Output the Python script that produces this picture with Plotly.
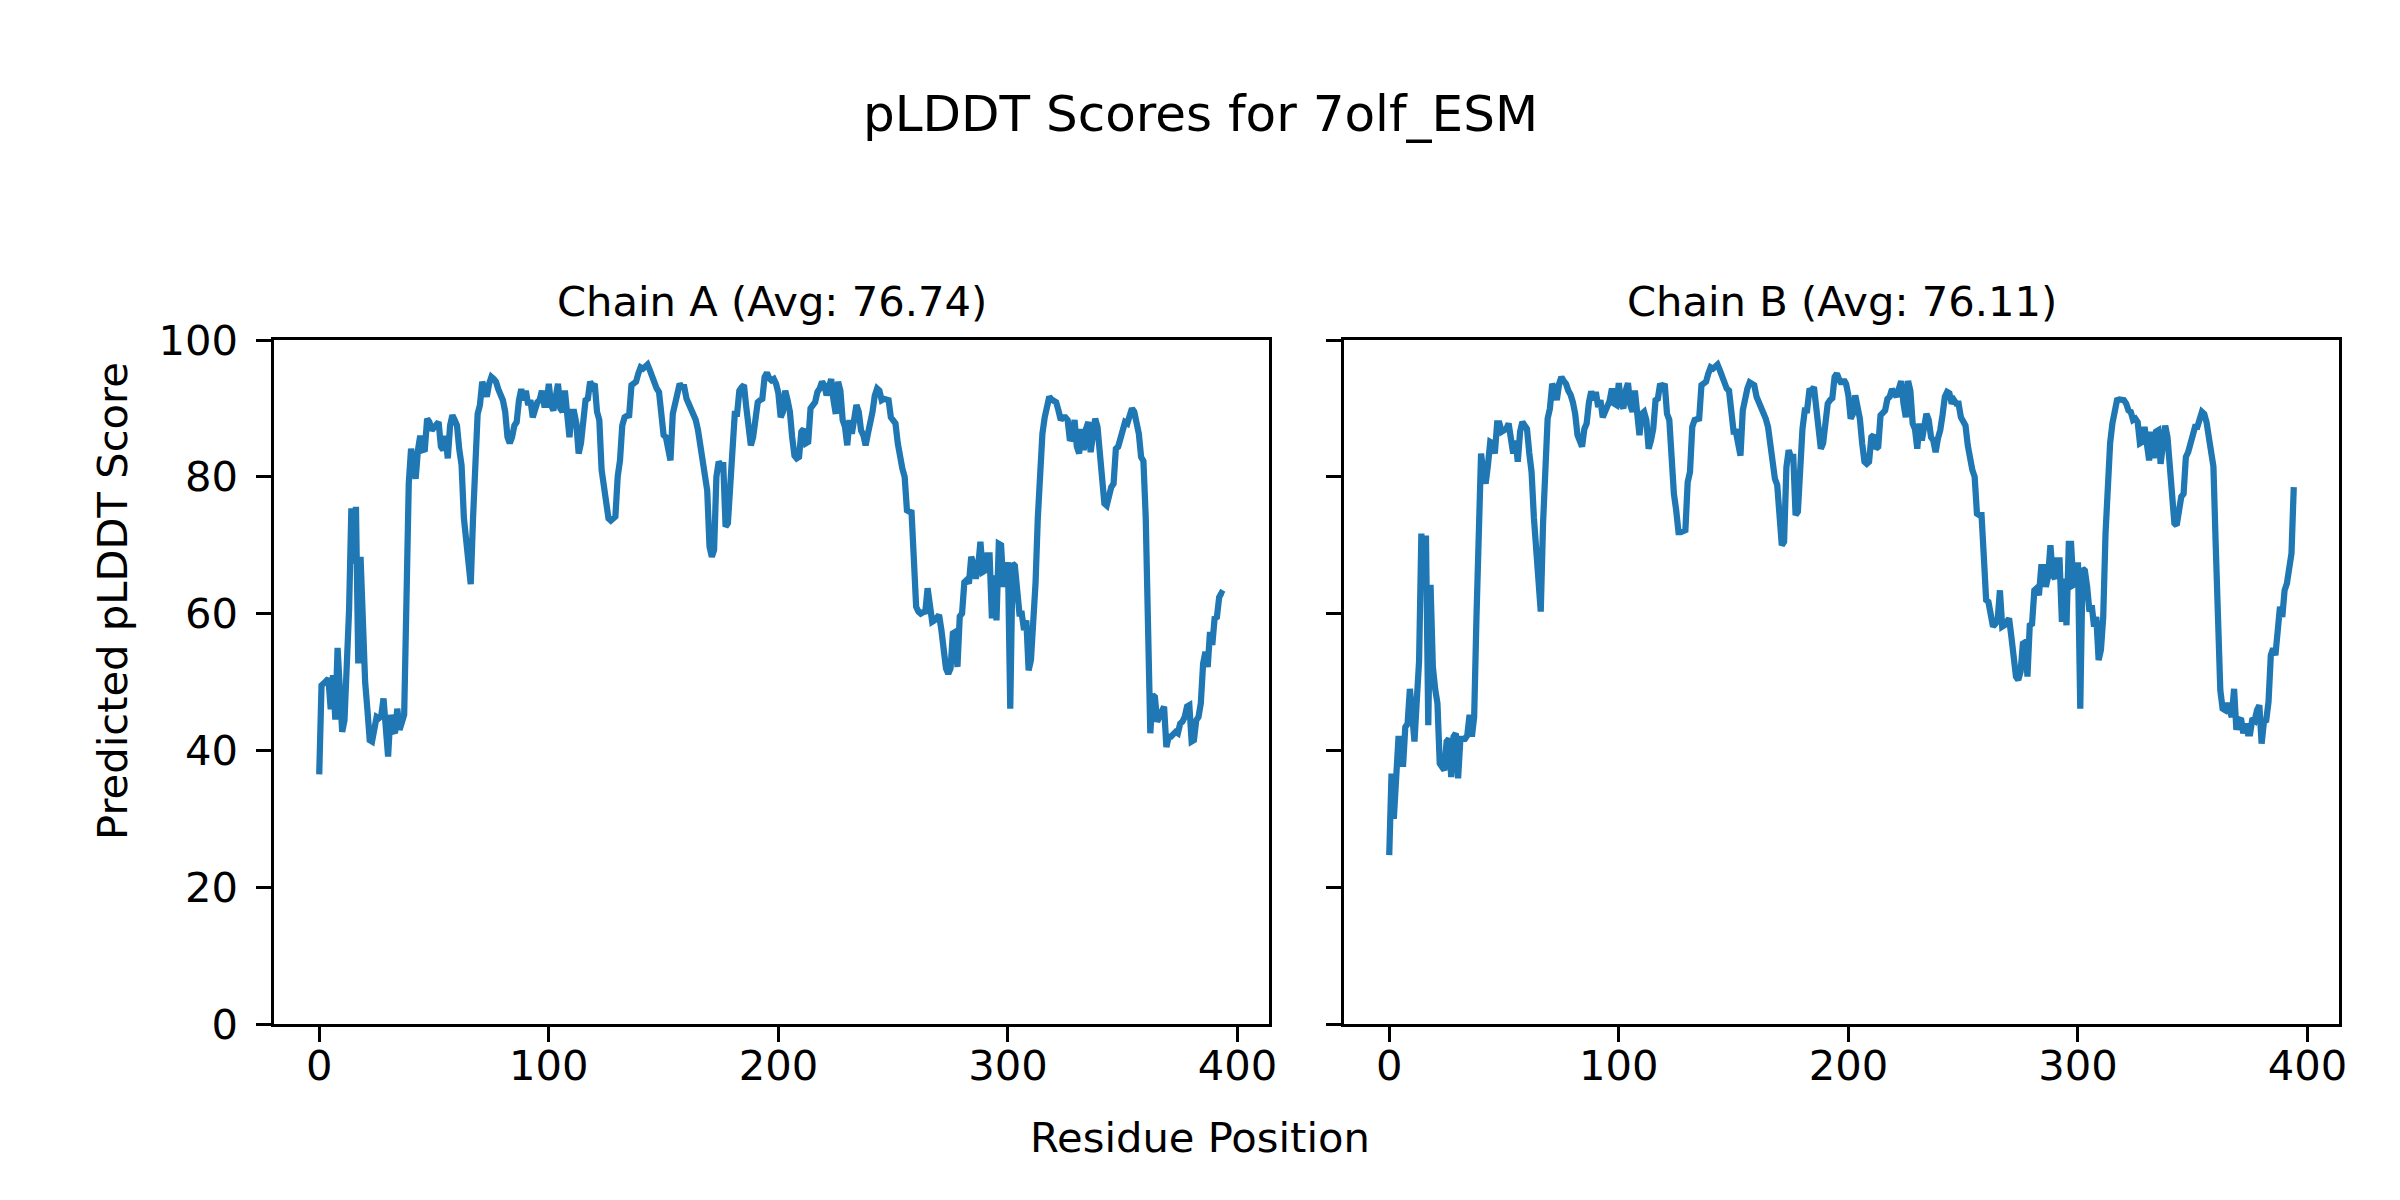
import numpy as np
import plotly.graph_objects as go

title_text = "pLDDT Scores for 7olf_ESM"
chain_titles = ["Chain A (Avg: 76.74)", "Chain B (Avg: 76.11)"]
x_label = "Residue Position"
y_label = "Predicted pLDDT Score"
x_ticks = [0, 100, 200, 300, 400]
y_ticks = [0, 20, 40, 60, 80, 100]

chain_a = [
    36.5, 49.5, 49.8, 50.3, 50.5, 46.0, 51.0, 44.5, 55.0, 48.8,
    42.7, 44.4, 52.0, 60.5, 75.4, 67.3, 75.6, 52.7, 68.3, 54.7,
    50.0, 45.9, 41.5, 41.3, 43.0, 44.9, 44.7, 45.0, 47.6, 41.5,
    39.1, 45.2, 43.0, 42.5, 46.1, 43.0, 44.0, 45.2, 62.0, 79.0,
    84.1, 82.4, 79.7, 83.9, 86.0, 83.9, 84.0, 88.5, 88.0, 86.8,
    87.2, 87.5, 88.0, 84.4, 83.9, 86.0, 82.7, 87.5, 89.0, 88.3,
    87.5, 84.0, 81.7, 74.0, 70.0, 67.0, 64.3, 74.0, 82.0, 89.2,
    90.5, 93.9, 92.9, 91.7, 93.6, 94.6, 94.3, 93.9, 92.8, 92.0,
    91.2, 89.5, 85.8, 84.9, 85.8, 87.5, 88.0, 91.2, 92.8, 91.2,
    92.6, 90.5, 91.2, 88.7, 90.0, 90.9, 91.2, 92.6, 90.5, 90.5,
    93.6, 90.5, 89.7, 92.6, 93.6, 90.0, 89.5, 92.6, 89.5, 85.8,
    89.5, 89.5, 87.8, 83.4, 84.9, 87.3, 91.2, 91.4, 93.9, 93.2,
    93.6, 89.5, 88.3, 81.0, 78.0, 76.1, 73.9, 73.6, 73.9, 74.2,
    80.0, 82.4, 87.5, 88.7, 88.9, 89.0, 93.4, 93.6, 93.9, 95.1,
    96.0, 95.8, 96.0, 96.4, 95.6, 94.6, 94.3, 92.9, 92.4, 90.0,
    86.1, 85.8, 84.0, 82.4, 89.2, 91.0, 92.6, 93.6, 93.1, 93.1,
    91.4, 90.7, 90.2, 89.5, 88.3, 86.8, 84.4, 82.7, 79.5, 78.0,
    69.8, 68.3, 69.3, 80.0, 82.2, 81.7, 81.7, 72.7, 73.2, 80.0,
    86.8, 89.2, 89.2, 92.6, 93.1, 93.4, 90.2, 86.8, 84.6, 85.8,
    89.2, 90.9, 91.2, 91.4, 94.6, 95.2, 94.4, 94.1, 94.3, 93.6,
    92.2, 88.7, 89.5, 92.6, 91.2, 89.5, 85.8, 83.1, 82.7, 82.9,
    86.6, 87.0, 84.9, 85.1, 90.0, 90.7, 90.9, 92.4, 92.9, 93.9,
    93.4, 91.9, 93.1, 94.3, 91.2, 89.2, 93.9, 92.6, 88.3, 87.3,
    84.6, 88.3, 86.3, 89.0, 90.5, 89.5, 86.8, 86.1, 84.6, 86.3,
    87.5, 89.5, 91.9, 92.9, 92.6, 91.2, 91.4, 91.2, 91.2, 88.7,
    88.0, 87.8, 84.9, 82.4, 81.2, 80.0, 75.1, 74.9, 74.8, 68.0,
    61.0, 60.3, 60.0, 60.2, 60.3, 63.7, 60.5, 58.8, 59.0, 59.5,
    59.8, 57.6, 54.2, 52.0, 51.2, 52.0, 57.1, 57.3, 52.2, 59.6,
    60.0, 64.6, 64.9, 64.4, 68.3, 67.3, 65.1, 66.8, 70.5, 66.1,
    66.3, 68.5, 68.5, 59.3, 65.6, 59.0, 70.2, 70.0, 63.9, 65.5,
    67.5, 46.1, 67.3, 67.0, 63.3, 60.0, 60.0, 57.6, 59.0, 51.7,
    53.2, 58.1, 64.4, 74.0, 81.4, 86.3, 88.7, 90.0, 91.7, 91.3,
    91.2, 90.9, 89.7, 88.3, 88.7, 88.7, 88.3, 85.3, 85.8, 88.3,
    84.4, 83.4, 87.0, 83.9, 87.0, 88.0, 83.6, 86.0, 88.5, 87.3,
    83.4, 81.7, 76.1, 75.8, 77.5, 78.5, 79.0, 84.1, 84.4, 85.6,
    87.5, 88.0, 87.8, 89.0, 90.0, 89.5, 88.0, 86.3, 82.9, 82.3,
    74.1, 58.0, 42.5, 48.1, 47.8, 44.2, 44.9, 46.1, 46.4, 40.5,
    42.0, 42.0, 42.5, 42.7, 42.5, 43.9, 44.2, 44.9, 46.4, 46.6,
    41.3, 41.5, 44.4, 44.9, 46.9, 52.7, 54.4, 52.2, 57.3, 55.4,
    59.3, 59.5, 62.4, 63.0, 62.8,
]

chain_b = [
    24.7, 36.6, 30.0, 37.1, 41.7, 41.7, 37.6, 43.4, 43.9, 49.0,
    44.4, 41.3, 47.3, 53.0, 71.7, 64.4, 71.4, 43.7, 64.2, 52.2,
    49.0, 46.9, 38.1, 37.6, 37.1, 41.3, 41.7, 36.1, 42.0, 42.5,
    35.9, 41.7, 41.7, 41.7, 42.2, 45.2, 42.0, 44.9, 59.5, 75.6,
    83.4, 80.5, 79.0, 81.7, 85.1, 84.9, 83.4, 87.8, 87.8, 86.6,
    86.8, 87.0, 87.8, 85.1, 83.4, 85.3, 82.2, 86.6, 88.0, 87.5,
    87.0, 83.5, 80.7, 74.1, 69.0, 65.0, 60.3, 73.2, 82.0, 88.5,
    90.0, 93.6, 92.9, 91.2, 93.6, 94.6, 94.0, 93.6, 92.6, 92.0,
    90.9, 89.2, 86.1, 85.0, 84.4, 87.0, 87.8, 90.9, 92.5, 91.2,
    92.4, 90.2, 91.2, 88.7, 89.7, 90.7, 91.1, 92.9, 90.7, 90.5,
    93.7, 90.7, 90.0, 92.6, 93.7, 90.5, 89.5, 92.6, 89.7, 86.1,
    89.2, 89.5, 88.3, 84.1, 85.3, 87.0, 91.2, 91.4, 93.6, 93.1,
    93.6, 89.2, 88.3, 80.5, 77.5, 75.1, 71.9, 71.9, 72.2, 72.2,
    79.2, 80.7, 87.3, 88.3, 88.4, 88.5, 93.4, 93.6, 93.9, 95.1,
    96.0, 95.8, 96.0, 96.4, 95.6, 94.6, 94.3, 92.9, 92.6, 90.0,
    86.6, 86.6, 84.5, 83.1, 89.7, 91.5, 92.9, 93.8, 93.5, 93.4,
    91.7, 90.9, 90.5, 89.5, 88.5, 87.3, 84.4, 82.9, 79.7, 78.8,
    72.2, 70.0, 70.5, 81.4, 83.9, 82.9, 82.9, 74.4, 74.9, 81.4,
    87.0, 89.7, 89.7, 92.6, 92.7, 93.1, 89.7, 86.3, 84.1, 84.9,
    89.0, 90.7, 91.2, 91.5, 94.6, 95.1, 94.2, 93.6, 94.2, 93.6,
    91.9, 88.5, 89.2, 91.9, 90.2, 88.5, 84.9, 82.2, 81.9, 82.2,
    85.8, 86.1, 84.1, 84.4, 89.0, 89.5, 89.7, 91.4, 91.7, 92.8,
    92.4, 91.7, 92.9, 94.0, 90.7, 88.7, 94.0, 92.6, 87.8, 87.0,
    84.1, 87.8, 85.3, 88.0, 89.2, 88.3, 85.8, 85.3, 83.6, 85.6,
    86.8, 89.0, 91.7, 92.4, 92.2, 90.7, 91.2, 90.7, 90.7, 88.7,
    87.8, 87.5, 84.6, 82.4, 81.0, 80.0, 74.6, 74.4, 74.4, 68.3,
    62.0, 61.7, 60.0, 58.1, 58.5, 59.0, 63.4, 58.1, 58.3, 58.8,
    59.3, 56.6, 53.2, 50.8, 50.3, 51.5, 55.6, 55.8, 50.8, 58.3,
    58.5, 63.4, 63.7, 62.7, 66.8, 66.8, 63.9, 65.4, 70.0, 65.6,
    65.1, 67.8, 67.8, 58.8, 65.1, 58.3, 70.2, 70.2, 64.2, 64.4,
    67.5, 46.1, 66.6, 66.3, 63.9, 60.3, 61.2, 58.1, 59.5, 53.2,
    54.7, 59.5, 71.7, 79.0, 84.9, 87.8, 89.2, 91.2, 91.3, 91.2,
    91.2, 90.7, 89.7, 89.5, 88.3, 88.5, 88.0, 84.9, 85.1, 87.3,
    83.9, 82.4, 86.6, 82.7, 86.6, 86.8, 81.9, 84.9, 87.5, 85.8,
    81.4, 79.7, 73.2, 72.9, 75.1, 77.1, 77.5, 82.9, 83.6, 84.9,
    86.6, 87.3, 87.3, 88.5, 89.5, 89.2, 88.0, 85.8, 82.7, 81.5,
    70.0, 59.5, 48.8, 46.1, 45.9, 46.9, 45.6, 44.9, 49.0, 43.0,
    44.4, 44.7, 42.5, 43.9, 42.5, 42.5, 44.7, 44.4, 45.9, 46.6,
    41.0, 44.2, 44.4, 47.1, 53.9, 54.9, 53.9, 56.6, 61.0, 59.5,
    63.4, 64.4, 67.6, 68.8, 78.5,
]

W, H = 2400, 1200
OFF = 8  # page body margin in the browser
FONT = "DejaVu Sans"
LINE_COLOR = "#1f77b4"
PT = 300 / 72.0  # matplotlib points to pixels at 300 dpi

x_a = np.arange(len(chain_a))
x_b = np.arange(len(chain_b))

# target axes boxes in page pixels (left, right, top, bottom)
boxes = [(274, 1269, 340, 1024), (1344, 2339, 340, 1024)]

def px_x(p):
    return (p - OFF) / W

def px_y(p):
    return 1 - (p - OFF) / H

def xmargin_range(x):
    lo, hi = float(np.min(x)), float(np.max(x))
    span = hi - lo
    return [lo - 0.05 * span, hi + 0.05 * span]

fig = go.Figure()
fig.add_trace(go.Scatter(x=x_a, y=chain_a, mode="lines",
                         line=dict(color=LINE_COLOR, width=1.5 * PT),
                         xaxis="x", yaxis="y", showlegend=False))
fig.add_trace(go.Scatter(x=x_b, y=chain_b, mode="lines",
                         line=dict(color=LINE_COLOR, width=1.5 * PT),
                         xaxis="x2", yaxis="y2", showlegend=False))

tick_font = dict(family=FONT, size=10 * PT, color="black")

def xaxis_cfg(box, xr, anchor):
    l, r, t, b = box
    return dict(domain=[px_x(l), px_x(r)], range=xr, anchor=anchor,
                tickmode="array", tickvals=x_ticks, automargin=False,
                ticks="outside", ticklen=3.5 * PT, tickwidth=0.8 * PT, tickcolor="black",
                showline=True, linecolor="black", linewidth=0.8 * PT, mirror=True,
                showgrid=False, zeroline=False, tickfont=tick_font,
                ticklabelstandoff=-12)

def yaxis_cfg(box, anchor, labels):
    l, r, t, b = box
    return dict(domain=[px_y(b), px_y(t)], range=[0, 100], anchor=anchor,
                tickmode="array", tickvals=y_ticks, showticklabels=labels,
                automargin=False,
                ticks="outside", ticklen=3.5 * PT, tickwidth=0.8 * PT, tickcolor="black",
                showline=True, linecolor="black", linewidth=0.8 * PT, mirror=True,
                showgrid=False, zeroline=False, tickfont=tick_font,
                ticklabelstandoff=10)

annotations = [
    dict(text=title_text, x=px_x(1200), y=px_y(114), xref="paper", yref="paper",
         xanchor="center", yanchor="middle", showarrow=False,
         font=dict(family=FONT, size=12 * PT, color="black")),
    dict(text=x_label, x=px_x(1200), y=px_y(1137), xref="paper", yref="paper",
         xanchor="center", yanchor="middle", showarrow=False,
         font=dict(family=FONT, size=10 * PT, color="black")),
    dict(text=y_label, x=px_x(112), y=px_y(601), xref="paper", yref="paper",
         xanchor="center", yanchor="middle", showarrow=False, textangle=-90,
         font=dict(family=FONT, size=10 * PT, color="black")),
]
for box, t in zip(boxes, chain_titles):
    l, r, tp, b = box
    annotations.append(dict(text=t, x=px_x((l + r) / 2), y=px_y(301),
                            xref="paper", yref="paper", xanchor="center",
                            yanchor="middle", showarrow=False,
                            font=dict(family=FONT, size=10 * PT, color="black")))

fig.update_layout(
    template="none",
    width=W, height=H, autosize=False,
    margin=dict(l=0, r=0, t=0, b=0, autoexpand=False),
    paper_bgcolor="white", plot_bgcolor="white",
    font=dict(family=FONT, color="black"),
    xaxis=xaxis_cfg(boxes[0], xmargin_range(x_a), "y"),
    xaxis2=xaxis_cfg(boxes[1], xmargin_range(x_b), "y2"),
    yaxis=yaxis_cfg(boxes[0], "x", True),
    yaxis2=yaxis_cfg(boxes[1], "x2", False),
    annotations=annotations,
    showlegend=False,
)

fig.write_html("out.html")
